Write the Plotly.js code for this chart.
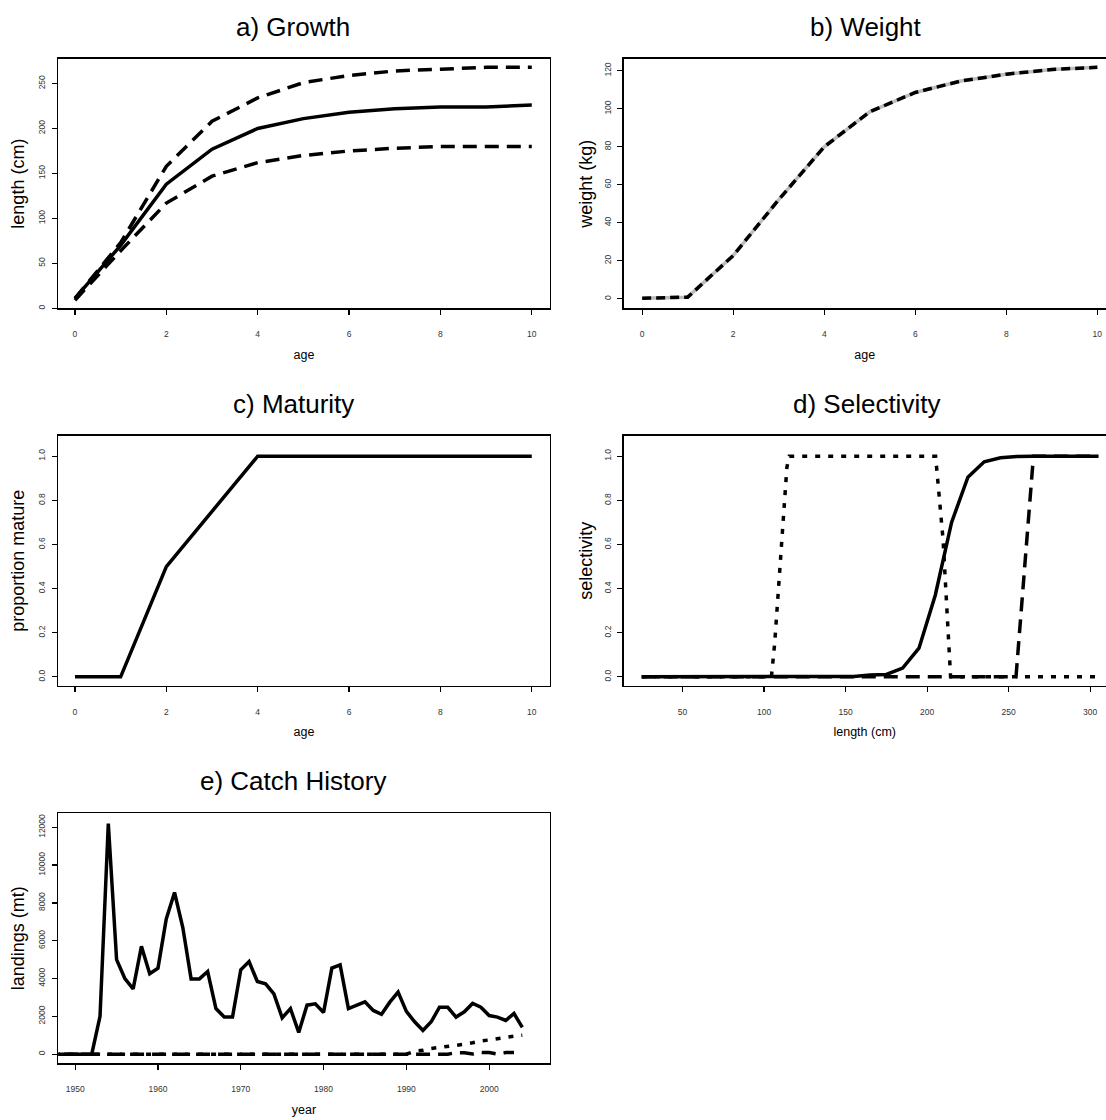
<!DOCTYPE html>
<html>
<head>
<meta charset="utf-8">
<script src="https://cdn.plot.ly/plotly-3.0.1.min.js"></script>
<style>html,body{margin:0;padding:0;background:#fff;}#chart{width:1106px;height:1120px;}</style>
</head>
<body>
<div id="chart"></div>
<script>
// ---------- data ----------
const ages = [0, 1, 2, 3, 4, 5, 6, 7, 8, 9, 10];
const lengthMean  = [11, 70, 138, 177, 200, 211, 218, 222, 224, 224, 226];
const lengthUpper = [11, 73, 158, 208, 234, 251, 259, 264, 266, 268, 268];
const lengthLower = [9, 64, 117, 147, 162, 170, 175, 178, 180, 180, 180];

const weightKg = [0.3, 0.9, 22.8, 52.2, 80, 98.4, 108.6, 114.6, 118.2, 120.7, 121.8];

const maturity = [0, 0, 0.5, 0.75, 1, 1, 1, 1, 1, 1, 1];

const selLength = [25, 35, 45, 55, 65, 75, 85, 95, 105, 115, 125, 135, 145, 155, 165, 175, 185, 195, 205, 215, 225, 235, 245, 255, 265, 275, 285, 295, 305];
const selSolid  = [0, 0, 0, 0, 0, 0, 0, 0, 0, 0, 0, 0, 0, 0.002, 0.009, 0.011, 0.04, 0.13, 0.37, 0.70, 0.905, 0.975, 0.993, 0.999, 1, 1, 1, 1, 1];
const selDotLength = [25, 104.5, 106.5, 114, 115.5, 205.2, 209.8, 212.9, 214.4, 305];
const selDotted    = [0, 0, 0.15, 0.95, 1, 1, 0.62, 0.15, 0, 0];
const selDashLength = [25, 254.5, 265.2, 305];
const selDashed     = [0, 0, 1, 1];

const years = [1946, 1947, 1948, 1949, 1950, 1951, 1952, 1953, 1954, 1955, 1956, 1957, 1958, 1959,
  1960, 1961, 1962, 1963, 1964, 1965, 1966, 1967, 1968, 1969, 1970, 1971, 1972, 1973, 1974, 1975,
  1976, 1977, 1978, 1979, 1980, 1981, 1982, 1983, 1984, 1985, 1986, 1987, 1988, 1989, 1990, 1991,
  1992, 1993, 1994, 1995, 1996, 1997, 1998, 1999, 2000, 2001, 2002, 2003, 2004];
const catchSolid = [0, 0, 0, 0, 0, 0, 0, 2000, 12200, 5000, 4000, 3450, 5700, 4250,
  4550, 7150, 8550, 6700, 3980, 3980, 4370, 2410, 1960, 1960, 4460, 4900, 3840, 3720, 3190, 1920,
  2410, 1150, 2590, 2660, 2200, 4550, 4720, 2410, 2570, 2770, 2310, 2110, 2750, 3280, 2260, 1710,
  1250, 1710, 2480, 2480, 1960, 2240, 2680, 2480, 2040, 1960, 1780, 2150, 1410];
const catchDotted = [0, 0, 0, 0, 0, 0, 0, 0, 0, 0, 0, 0, 0, 0,
  0, 0, 0, 0, 0, 0, 0, 0, 0, 0, 0, 0, 0, 0, 0, 0,
  0, 0, 0, 0, 0, 0, 0, 0, 0, 0, 0, 0, 0, 0, 0, 150,
  200, 300, 350, 380, 430, 520, 600, 700, 750, 800, 880, 950, 1000];
const catchDashYears = years.slice(0, years.length - 1);
const catchDashed = [0, 0, 0, 0, 0, 0, 0, 0, 0, 0, 0, 0, 0, 0,
  0, 0, 0, 0, 0, 0, 0, 0, 0, 0, 0, 0, 0, 0, 0, 0,
  0, 0, 0, 0, 0, 0, 0, 0, 0, 0, 0, 0, 0, 0, 0, 0,
  0, 0, 0, 0, 80, 70, 10, 90, 80, 10, 80, 80];

const panelTitles = ["a) Growth", "b) Weight", "c) Maturity", "d) Selectivity", "e) Catch History"];

// ---------- styling ----------
const W = 1106, H = 1120;
const FONT = "Liberation Sans, Arial, Helvetica, sans-serif";
const LW = 3.5;
const DASH = "14px,8px";
const DOT = "5px,8px";

function ln(x, y, xa, ya, dash, color, width) {
  return {type: "scatter", mode: "lines", x: x, y: y, xaxis: xa, yaxis: ya,
    line: {color: color || "#000", width: width || LW, dash: dash || "solid"},
    hoverinfo: "skip", showlegend: false};
}

const traces = [
  ln(ages, lengthUpper, "x", "y", DASH),
  ln(ages, lengthLower, "x", "y", DASH),
  ln(ages, lengthMean, "x", "y", "solid"),
  ln(ages, weightKg, "x2", "y2", "solid", "#bdbdbd"),
  ln(ages, weightKg, "x2", "y2", "9px,5px", "#000"),
  ln(ages, maturity, "x3", "y3", "solid"),
  ln(selLength, selSolid, "x4", "y4", "solid"),
  ln(selDotLength, selDotted, "x4", "y4", DOT),
  ln(selDashLength, selDashed, "x4", "y4", DASH),
  ln(catchDashYears, catchDashed, "x5", "y5", DASH),
  ln(years, catchDotted, "x5", "y5", DOT),
  ln(years, catchSolid, "x5", "y5", "solid")
];

// plot boxes in pixels: [left, right, top, bottom]
const boxes = [
  [58.3, 549.6, 59, 308.3],
  [623.5, 1106, 59, 308.3],
  [58.3, 549.6, 435.7, 685.7],
  [623.5, 1106, 435.7, 685.7],
  [58.3, 549.6, 813.3, 1063.3]
];
const xRanges = [[-0.365, 10.39], [-0.41, 10.19], [-0.365, 10.39], [13.8, 309.7], [1947.96, 2007.3]];
const yRanges = [[0, 277.3], [-4.96, 126.2], [-0.04, 1.093], [-0.04, 1.093], [-485, 12740]];
const xDticks = [2, 2, 2, 50, 10];
const xTick0 = [0, 0, 0, 0, 1950];
const yDticks = [50, 20, 0.2, 0.2, 2000];
const yFormats = ["d", "d", ".1f", ".1f", "d"];
const xTitles = ["age", "age", "age", "length (cm)", "year"];
const yTitles = ["length (cm)", "weight (kg)", "proportion mature", "selectivity", "landings (mt)"];
const yTitleStandoff = [8, 5, 8, 5, 8];
const clippedRight = [false, true, false, true, false];
const titleCenters = [293, 866, 293, 866, 293];

const layout = {
  width: W, height: H, autosize: false,
  margin: {l: 0, r: 0, t: 0, b: 0, pad: 0},
  paper_bgcolor: "#fff", plot_bgcolor: "#fff",
  font: {family: FONT, color: "#000"},
  showlegend: false,
  annotations: []
};

boxes.forEach((b, i) => {
  const k = i === 0 ? "" : String(i + 1);
  layout["xaxis" + k] = {
    domain: [b[0] / W, b[1] / W], range: xRanges[i], anchor: "y" + k,
    showline: true, linecolor: "#000", linewidth: 1.6, mirror: true,
    showgrid: false, zeroline: false,
    ticks: "outside", ticklen: 5, tickwidth: 1.2, tickcolor: "#000",
    tick0: xTick0[i], dtick: xDticks[i],
    tickfont: {family: FONT, size: 8.5, color: "#333"},
    ticklabelstandoff: 12,
    title: {text: xTitles[i], font: {family: FONT, size: 12.5, color: "#000"}, standoff: 12}
  };
  layout["yaxis" + k] = {
    domain: [1 - b[3] / H, 1 - b[2] / H], range: yRanges[i], anchor: "x" + k,
    showline: true, linecolor: "#000", linewidth: 1.6, mirror: !clippedRight[i],
    showgrid: false, zeroline: false,
    ticks: "outside", ticklen: 5, tickwidth: 1.2, tickcolor: "#000",
    tick0: 0, dtick: yDticks[i], tickformat: yFormats[i], tickangle: -90,
    tickfont: {family: FONT, size: 8.5, color: "#333"},
    ticklabelstandoff: 3,
    title: {text: yTitles[i], font: {family: FONT, size: 18, color: "#000"}, standoff: yTitleStandoff[i]}
  };
  layout.annotations.push({
    text: panelTitles[i], xref: "paper", yref: "paper",
    x: titleCenters[i] / W, y: 1 - (b[2] - 32) / H,
    xanchor: "center", yanchor: "middle", showarrow: false,
    font: {family: FONT, size: 26, color: "#000"}
  });
});

Plotly.newPlot("chart", traces, layout, {staticPlot: true, displayModeBar: false});
</script>
</body>
</html>
